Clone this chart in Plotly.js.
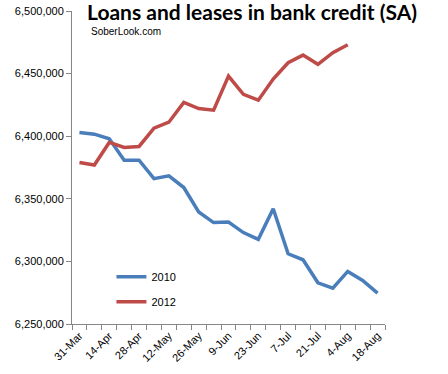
<!DOCTYPE html>
<html><head><meta charset="utf-8">
<script src="https://cdn.plot.ly/plotly-3.0.1.min.js"></script>
<style>html,body{margin:0;padding:0;background:#fff}#chart{width:448px;height:374px}</style>
</head><body><div id="chart"></div>
<script>
var weeks = ["31-Mar","7-Apr","14-Apr","21-Apr","28-Apr","5-May","12-May","19-May","26-May","2-Jun","9-Jun","16-Jun","23-Jun","30-Jun","7-Jul","14-Jul","21-Jul","28-Jul","4-Aug","11-Aug","18-Aug"];
var tickLabels = ["31-Mar","14-Apr","28-Apr","12-May","26-May","9-Jun","23-Jun","7-Jul","21-Jul","4-Aug","18-Aug"];
var values2010 = [6403000,6401600,6397900,6380800,6380800,6366100,6368300,6359000,6339500,6331000,6331500,6323000,6317600,6342100,6306100,6301300,6282900,6278600,6292000,6284800,6274600];
var values2012 = [6379000,6377000,6395000,6391000,6391800,6406400,6411200,6427000,6422100,6420800,6448000,6433400,6428800,6445600,6458700,6464800,6457400,6466700,6473000];

var ticktext = weeks.map(function(w){ return tickLabels.indexOf(w) >= 0 ? w : ""; });

var traces = [
  {x: weeks, y: values2010, name: "2010", type: "scatter", mode: "lines",
   line: {color: "#4a7ebb", width: 3.5}, legendgroup: "a"},
  {x: weeks.slice(0, values2012.length), y: values2012, name: "2012", type: "scatter", mode: "lines",
   line: {color: "#be4b48", width: 3.5}, legendgroup: "b"}
];

var layout = {
  width: 448, height: 374,
  margin: {l: 72, r: 63, t: 11, b: 50},
  paper_bgcolor: "#fff", plot_bgcolor: "#fff",
  font: {family: "Liberation Sans, Arial, sans-serif", size: 11, color: "#000"},
  title: {text: "<b>Loans and leases in bank credit (SA)</b>",
    font: {family: "Lato, Noto Sans, sans-serif", size: 21, color: "#000"},
    xref: "paper", x: 0.048, xanchor: "left", yref: "container", y: 0.986, yanchor: "top"},
  annotations: [{text: "SoberLook.com", xref: "paper", yref: "paper", x: 0.053, y: 0.933,
    xanchor: "left", yanchor: "middle", showarrow: false,
    font: {family: "Liberation Sans, Arial, sans-serif", size: 10, color: "#000"}}],
  xaxis: {type: "category", range: [-0.5, 20.5], tickmode: "array", tickvals: weeks, ticktext: ticktext,
    tickson: "boundaries", ticks: "outside", ticklen: 5, tickcolor: "#868686",
    showline: true, linecolor: "#868686", linewidth: 1, showgrid: false, zeroline: false,
    tickangle: -45, tickfont: {size: 11}},
  yaxis: {range: [6250000, 6500000], dtick: 50000, tick0: 6250000, tickformat: ",d",
    ticks: "outside", ticklen: 5, tickcolor: "#868686", showline: true, linecolor: "#868686",
    linewidth: 1, showgrid: false, zeroline: false, tickfont: {size: 11}},
  showlegend: true,
  legend: {x: 0.126, y: 0.197, xanchor: "left", yanchor: "top", traceorder: "grouped",
    tracegroupgap: 6, bgcolor: "rgba(0,0,0,0)", font: {size: 11}}
};

Plotly.newPlot("chart", traces, layout, {displayModeBar: false, staticPlot: true});
</script></body></html>
